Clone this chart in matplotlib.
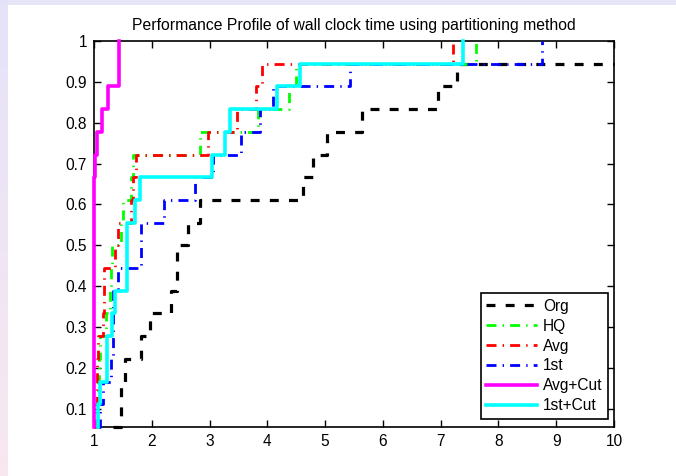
import numpy as np
import matplotlib
matplotlib.use('Agg')
import matplotlib.pyplot as plt
from matplotlib.patches import Rectangle

plt.rcParams['font.family'] = ['Liberation Sans', 'DejaVu Sans']

# performance ratios of the 18 problems (sorted), inf = not solved
n_prob = 18
labels = ['Org', 'HQ', 'Avg', '1st', 'Avg+Cut', '1st+Cut']
ratio_org = [1.33, 1.47, 1.47, 1.53, 1.81, 1.97, 2.34, 2.43, 2.43, 2.63, 2.83,
             4.62, 4.79, 5.03, 5.64, 6.95, 7.28, np.inf]
ratio_hq = [1.0, 1.05, 1.07, 1.08, 1.10, 1.21, 1.27, 1.29, 1.31, 1.47, 1.50,
            1.64, 1.67, 2.84, 3.84, 4.38, 4.49, 7.61]
ratio_avg = [1.0, 1.03, 1.05, 1.05, 1.07, 1.15, 1.17, 1.18, 1.36, 1.42, 1.64,
             1.68, 1.72, 2.97, 3.47, 3.81, 3.90, 7.21]
ratio_1st = [1.07, 1.10, 1.155, 1.30, 1.33, 1.33, 1.33, 1.41, 1.82, 1.82, 2.22,
             2.75, 3.06, 3.54, 3.87, 4.09, 5.43, 8.75]
ratio_avgcut = [1.0] * 12 + [1.02, 1.05, 1.13, 1.25, 1.44, 1.44]
ratio_1stcut = [1.07, 1.07, 1.10, 1.23, 1.23, 1.31, 1.36, 1.57, 1.57, 1.57, 1.71,
                1.80, 3.04, 3.27, 3.35, 4.17, 4.56, 7.39]

all_ratios = [ratio_org, ratio_hq, ratio_avg, ratio_1st, ratio_avgcut, ratio_1stcut]
colors = ['k', (0, 1, 0), 'r', 'b', (1, 0, 1), (0, 1, 1)]
widths = [2.3, 2.0, 2.0, 2.0, 2.6, 2.6]
dashes = [(2.8, 3.2), (3.6, 2.2, 0.5, 2.2), (3.6, 2.2, 0.5, 2.2), (3.6, 2.2, 0.5, 2.2), None, None]
x_max = 10

fig = plt.figure(figsize=(6.76, 4.76), dpi=100, facecolor='white')

# window border stripes (top lavender, left lavender->pink)
fig.add_artist(Rectangle((0, 1 - 5 / 476), 1, 5 / 476, transform=fig.transFigure,
                         facecolor='#e6e4f7', edgecolor='none', zorder=0))
bax = fig.add_axes([0, 0, 7 / 676, 1])
grad = np.linspace(0, 1, 100)[:, None]
c_top = np.array([0.90, 0.89, 0.97])
c_bot = np.array([0.97, 0.91, 0.94])
bax.imshow(c_top + grad[:, :, None] * (c_bot - c_top), aspect='auto', extent=[0, 1, 0, 1])
bax.axis('off')

ax = fig.add_axes([94 / 676, 49 / 476, 520 / 676, 386 / 476])

for r, lab, c, lw, d in zip(all_ratios, labels, colors, widths, dashes):
    r = np.array(r, dtype=float)
    y = np.arange(1, n_prob + 1) / n_prob
    ok = np.isfinite(r)
    xs = r[ok]
    ys = y[ok]
    if not ok.all():
        # unsolved problems: profile stays flat to the right edge
        xs = np.append(xs, x_max)
        ys = np.append(ys, ys[-1])
    line, = ax.step(xs, ys, where='post', color=c, lw=lw, label=lab,
                    clip_on=False, zorder=3)
    if d is not None:
        line.set_dashes(d)

ax.set_xlim(1, x_max)
ax.set_ylim(1 / n_prob, 1)
ax.set_xticks(range(1, 11))
ax.set_yticks([0.1, 0.2, 0.3, 0.4, 0.5, 0.6, 0.7, 0.8, 0.9, 1.0])
ax.set_yticklabels(['0.1', '0.2', '0.3', '0.4', '0.5', '0.6', '0.7', '0.8', '0.9', '1'])
ax.tick_params(direction='in', top=True, right=True, length=5, width=1, labelsize=11.2, pad=5)
for s in ax.spines.values():
    s.set_linewidth(1.2)

ax.set_title('Performance Profile of wall clock time using partitioning method',
             fontsize=11.3, pad=8)

leg = ax.legend(loc='lower right', bbox_to_anchor=(0.988, 0.021), borderaxespad=0,
                fancybox=False, edgecolor='k', framealpha=1, fontsize=11.2,
                handlelength=3.3, handletextpad=0.35, labelspacing=0.32,
                borderpad=0.35)
leg.get_frame().set_linewidth(1.2)
leg.set_zorder(5)

fig.savefig('out.png', dpi=100, facecolor=fig.get_facecolor())
